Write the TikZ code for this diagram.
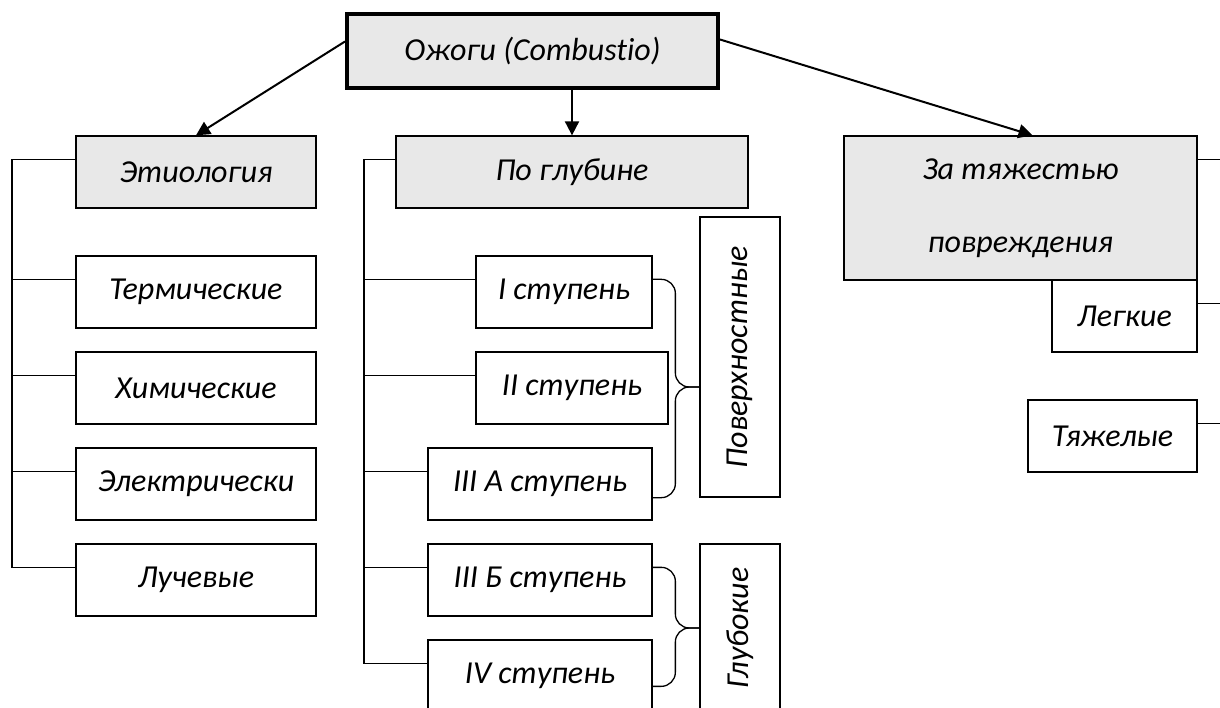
\documentclass[tikz,border=0pt]{standalone}
\usepackage{fontspec}
\setmainfont{Carlito}[Ligatures=NoCommon]
\usetikzlibrary{arrows.meta}
\definecolor{boxgray}{HTML}{E8E8E8}

\begin{document}
\begin{tikzpicture}[x=1pt,y=-1pt]
    \tikzstyle{arrow} = [line width=2pt,-{Triangle[length=14pt,width=14pt]}]
    \tikzstyle{item} = [draw, line width=1.3pt, minimum height=72pt, inner sep=0pt, font=\fontsize{32}{39}\selectfont\itshape]
    \tikzstyle{head} = [item, fill=boxgray]
    \tikzstyle{bus} = [line width=1.3pt]
    \useasboundingbox (0,0) rectangle (1220,708);

    % Top box
    \node [head, line width=4pt, minimum width=371pt, minimum height=74pt] (Top) at (532.5,51.5) {Ожоги (Combustio)};

    % Left column
    \node [head, minimum width=240pt] (Etio) at (196,172) {Этиология};
    \node [item, minimum width=240pt] (Term) at (196,292) {Термические};
    \node [item, minimum width=240pt] (Chem) at (196,388) {Химические};
    \node [item, minimum width=240pt] (Elec) at (196,484) {Электрически};
    \node [item, minimum width=240pt] (Ray) at (196,580) {Лучевые};
    \coordinate (EtioBus) at (12,160);
    \foreach \n in {Etio,Term,Chem,Elec,Ray}
        \draw [bus] (EtioBus) |- ([yshift=-24pt]\n.north west);
    \draw [arrow] ([yshift=10pt]Top.west) -- (Etio.north);

    % Middle column
    \node [head, minimum width=352pt] (Depth) at (572,172) {По глубине};
    \node [item, minimum width=176pt] (StI) at (564,292) {I ступень};
    \node [item, minimum width=192pt] (StII) at (572,388) {II ступень};
    \node [item, minimum width=224pt] (StIIIA) at (540,484) {III А ступень};
    \node [item, minimum width=224pt] (StIIIB) at (540,580) {III Б ступень};
    \node [item, minimum width=224pt] (StIV) at (540,676) {IV ступень};
    \coordinate (DepthBus) at (364,160);
    \foreach \n in {Depth,StI,StII,StIIIA,StIIIB,StIV}
        \draw [bus] (DepthBus) |- ([yshift=-24pt]\n.north west);
    \draw [arrow] (Top.south -| Depth.north) -- (Depth.north);

    % Braces
    \node [item, rotate=90, minimum width=280pt, minimum height=80pt] (Surf) at (740,357) {Поверхностные};
    \node [item, rotate=90, minimum width=168pt, minimum height=80pt] (Deep) at (740,628) {Глубокие};
    \coordinate (SurfTip) at ([yshift=-30pt]Surf.north);
    \draw [bus, rounded corners=14pt] ([yshift=-24pt]StI.north east) -| ([xshift=-24pt]SurfTip) -- (SurfTip);
    \draw [bus, rounded corners=14pt] (SurfTip) -- ([xshift=-24pt]SurfTip) |- ([yshift=23pt]StIIIA.south east);
    \draw [bus, rounded corners=14pt] ([yshift=-24pt]StIIIB.north east) -| ([xshift=-24pt]Deep.north) -- (Deep.north);
    \draw [bus, rounded corners=14pt] (Deep.north) -- ([xshift=-24pt]Deep.north) |- ([yshift=-47pt]StIV.north east);

    % Right column
    \node [head, minimum width=353pt, minimum height=144pt, align=center] (Sev) at (1020.5,208) {За тяжестью\\[34pt]повреждения};
    \node [item, minimum width=145pt] (Light) at (1124.5,316) {Легкие};
    \node [item, minimum width=169pt] (Heavy) at (1112.5,436) {Тяжелые};
    \coordinate (SevBus) at (1223,160);
    \foreach \n in {Sev,Light,Heavy}
        \draw [bus] (SevBus) |- ([yshift=-24pt]\n.north east);
    \draw [arrow] ([yshift=12pt]Top.east) -- ([xshift=12pt]Sev.north);
\end{tikzpicture}
\end{document}
